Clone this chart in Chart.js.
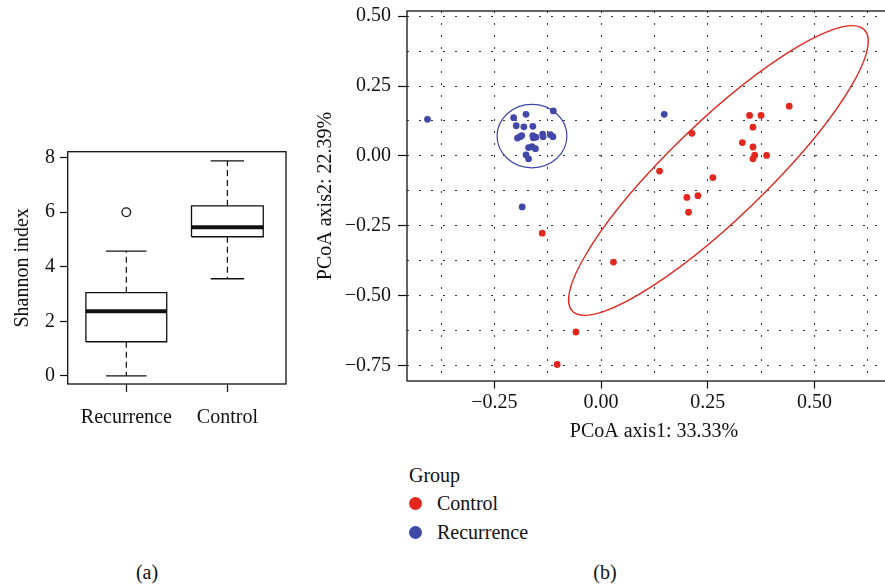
<!DOCTYPE html>
<html>
<head>
<meta charset="utf-8">
<title>Shannon index and PCoA</title>
<script src="https://cdn.jsdelivr.net/npm/chart.js@4.4.1/dist/chart.umd.min.js"></script>
<style>
    body {
        margin: 0;
        width: 885px;
        height: 584px;
        position: relative;
        overflow: hidden;
        background: #fff;
        font-family: 'Liberation Serif', 'DejaVu Serif', serif;
        color: #111;
    }
    #box-wrap { position: absolute; left: 0; top: 130px; }
    #pcoa-wrap { position: absolute; left: 300px; top: 0; }
    .txt { position: absolute; font-size: 20px; line-height: 24px; white-space: nowrap; }
    .caption { transform: translateX(-50%); }
    .dot { position: absolute; width: 13px; height: 13px; border-radius: 50%; }
</style>
</head>
<body>
<div id="box-wrap"><canvas id="box-chart" width="300" height="310"></canvas></div>
<div id="pcoa-wrap"><canvas id="pcoa-chart" width="605" height="445"></canvas></div>

<div class="txt" style="left:409px; top:463px;">Group</div>
<div class="dot" id="dot-control" style="left:409px; top:497px;"></div>
<div class="txt" style="left:437px; top:491px;">Control</div>
<div class="dot" id="dot-recurrence" style="left:409px; top:526px;"></div>
<div class="txt" style="left:437px; top:520px;">Recurrence</div>

<div class="txt caption" style="left:147px; top:560px;">(a)</div>
<div class="txt caption" style="left:605px; top:560px;">(b)</div>

<script>
// (a) Shannon index per group
const groups = ['Recurrence', 'Control'];
const whiskerLow = [0.0, 3.56];
const quartile1 = [1.25, 5.10];
const medians = [2.37, 5.45];
const quartile3 = [3.05, 6.23];
const whiskerHigh = [4.57, 7.88];
const outliers = [[6.0], []];
const shannonTicks = [0, 2, 4, 6, 8];

// (b) PCoA coordinates
const controlAxis1 = [0.441, 0.348, 0.375, 0.356, 0.213, 0.331, 0.356, 0.360, 0.356, 0.388,
    0.137, 0.262, 0.201, 0.227, 0.205, -0.138, 0.029, -0.059, -0.103];
const controlAxis2 = [0.178, 0.145, 0.145, 0.103, 0.081, 0.048, 0.032, 0.003, -0.010, 0.002,
    -0.054, -0.077, -0.148, -0.142, -0.201, -0.276, -0.379, -0.629, -0.745];
const recurrenceAxis1 = [-0.407, -0.205, -0.176, -0.112, -0.199, -0.181, -0.160, -0.196, -0.190, -0.186,
    -0.160, -0.159, -0.153, -0.137, -0.136, -0.119, -0.113, -0.170, -0.162, -0.154,
    -0.176, -0.170, -0.185, 0.148];
const recurrenceAxis2 = [0.131, 0.137, 0.149, 0.161, 0.108, 0.104, 0.106, 0.064, 0.069, 0.073,
    0.073, 0.065, 0.067, 0.078, 0.069, 0.076, 0.069, 0.030, 0.033, 0.026,
    0.004, -0.010, -0.182, 0.149];
const axis1Ticks = [-0.25, 0.00, 0.25, 0.50];
const axis1Minor = [-0.375, -0.125, 0.125, 0.375, 0.625];
const axis2Ticks = [-0.75, -0.50, -0.25, 0.00, 0.25, 0.50];
const axis2Minor = [-0.625, -0.375, -0.125, 0.125, 0.375];

// group ellipses: [control, recurrence]
const ellipseCentre1 = [0.275, -0.162];
const ellipseCentre2 = [-0.052, 0.071];
const ellipseSemiMajor = [0.611, 0.1132];
const ellipseSemiMinor = [0.134, 0.0819];
const ellipseAngleDeg = [57, 90];

// Colours and layout
const RED = '#E1281E';
const BLUE = '#4048A8';
const INK = '#111';
const FONT = { family: "'Liberation Serif', 'DejaVu Serif', serif", size: 20 };
const boxHalfWidth = [0.40, 0.355];
const capHalfWidth = [0.20, 0.165];

document.getElementById('dot-control').style.background = RED;
document.getElementById('dot-recurrence').style.background = BLUE;

Chart.defaults.font = FONT;
Chart.defaults.color = INK;

// Draws the frame round the plotting panel
const panelBorder = {
    id: 'panelBorder',
    afterDraw(chart) {
        const { ctx, chartArea: a } = chart;
        ctx.save();
        ctx.strokeStyle = INK;
        ctx.lineWidth = 1.3;
        ctx.strokeRect(a.left, a.top, a.right - a.left, a.bottom - a.top);
        ctx.restore();
    }
};

// Draws the group ellipses through the chart scales
const groupEllipses = {
    id: 'groupEllipses',
    afterDatasetsDraw(chart) {
        const { ctx, scales: { x, y } } = chart;
        const kx = x.getPixelForValue(1) - x.getPixelForValue(0);
        const ky = y.getPixelForValue(0) - y.getPixelForValue(1);
        [RED, BLUE].forEach((colour, i) => {
            ctx.save();
            ctx.beginPath();
            ctx.translate(x.getPixelForValue(ellipseCentre1[i]), y.getPixelForValue(ellipseCentre2[i]));
            ctx.scale(kx, -ky);
            ctx.rotate(ellipseAngleDeg[i] * Math.PI / 180);
            ctx.ellipse(0, 0, ellipseSemiMajor[i], ellipseSemiMinor[i], 0, 0, Math.PI * 2);
            ctx.restore();
            ctx.save();
            ctx.strokeStyle = colour;
            ctx.lineWidth = i === 0 ? 1.4 : 1.2;
            ctx.stroke();
            ctx.restore();
        });
    }
};

function fixAxis(size) {
    return scale => {
        if (scale.isHorizontal()) scale.height = size; else scale.width = size;
        scale.paddingTop = 0; scale.paddingBottom = 0;
        scale.paddingLeft = 0; scale.paddingRight = 0;
    };
}

function segment(points, width, dash) {
    return {
        data: points.map(([px, py]) => ({ x: px, y: py })),
        showLine: true,
        borderColor: INK,
        borderWidth: width,
        borderDash: dash || [],
        pointRadius: 0,
        fill: false,
        tension: 0
    };
}

function boxDatasets() {
    const sets = [];
    groups.forEach((g, i) => {
        const c = i + 1, w = boxHalfWidth[i], k = capHalfWidth[i];
        sets.push(segment([[c, quartile3[i]], [c, whiskerHigh[i]]], 1.2, [6, 4]));
        sets.push(segment([[c, quartile1[i]], [c, whiskerLow[i]]], 1.2, [6, 4]));
        sets.push(segment([[c - k, whiskerHigh[i]], [c + k, whiskerHigh[i]]], 1.3));
        sets.push(segment([[c - k, whiskerLow[i]], [c + k, whiskerLow[i]]], 1.3));
        sets.push(segment([[c - w, quartile1[i]], [c + w, quartile1[i]], [c + w, quartile3[i]],
            [c - w, quartile3[i]], [c - w, quartile1[i]]], 1.3));
        sets.push(segment([[c - w, medians[i]], [c + w, medians[i]]], 4));
        outliers[i].forEach(v => sets.push({
            data: [{ x: c, y: v }],
            pointRadius: 4.3,
            pointBackgroundColor: '#fff',
            pointBorderColor: INK,
            pointBorderWidth: 1.3
        }));
    });
    return sets;
}

new Chart(document.getElementById('box-chart'), {
    type: 'scatter',
    data: { datasets: boxDatasets() },
    options: {
        responsive: false,
        animation: false,
        layout: { padding: { top: 21.7, right: 14, left: 0, bottom: 0 } },
        plugins: { legend: { display: false }, tooltip: { enabled: false } },
        scales: {
            x: {
                type: 'linear', min: 0.42, max: 2.58,
                afterBuildTicks: s => { s.ticks = groups.map((g, i) => ({ value: i + 1 })); },
                afterFit: fixAxis(56),
                ticks: { autoSkip: false, maxRotation: 0, padding: 14, callback: (v, i) => groups[i] },
                grid: { drawOnChartArea: false, tickLength: 8, tickColor: INK, tickWidth: 1.2 },
                border: { display: false }
            },
            y: {
                type: 'linear', min: -0.3, max: 8.22,
                afterBuildTicks: s => { s.ticks = shannonTicks.map(v => ({ value: v })); },
                afterFit: fixAxis(67.7),
                ticks: { padding: 5, callback: v => String(v) },
                grid: { drawOnChartArea: false, tickLength: 7.7, tickColor: INK, tickWidth: 1.2 },
                border: { display: false },
                title: { display: true, text: 'Shannon index', padding: { top: 11, bottom: 0 } }
            }
        }
    },
    plugins: [panelBorder]
});

const fmt = v => (v < 0 ? '\u2212' : '') + Math.abs(v).toFixed(2);
const withMinor = (major, minor) => major.concat(minor).sort((a, b) => a - b).map(v => ({ value: v }));

new Chart(document.getElementById('pcoa-chart'), {
    type: 'scatter',
    data: {
        datasets: [
            {
                label: 'Control',
                data: controlAxis1.map((v, i) => ({ x: v, y: controlAxis2[i] })),
                pointRadius: 3.4, pointBorderWidth: 0, pointBackgroundColor: RED
            },
            {
                label: 'Recurrence',
                data: recurrenceAxis1.map((v, i) => ({ x: v, y: recurrenceAxis2[i] })),
                pointRadius: 3.4, pointBorderWidth: 0, pointBackgroundColor: BLUE
            }
        ]
    },
    options: {
        responsive: false,
        animation: false,
        layout: { padding: { top: 11, right: 0, left: 0, bottom: 0 } },
        plugins: { legend: { display: false }, tooltip: { enabled: false } },
        scales: {
            x: {
                type: 'linear', min: -0.455, max: 0.703,
                afterBuildTicks: s => { s.ticks = withMinor(axis1Ticks, axis1Minor); },
                afterFit: fixAxis(64),
                ticks: { autoSkip: false, maxRotation: 0, padding: 2,
                    callback: v => axis1Ticks.includes(v) ? fmt(v) : '' },
                grid: {
                    color: '#333', lineWidth: 1, tickLength: 7.5, tickWidth: 1.2, tickBorderDash: [],
                    tickColor: c => axis1Ticks.includes(c.tick.value) ? INK : 'rgba(0,0,0,0)'
                },
                border: { display: false, dash: [2, 10] },
                title: { display: true, text: 'PCoA axis1: 33.33%', padding: { top: 0, bottom: 1.3 } }
            },
            y: {
                type: 'linear', min: -0.804, max: 0.518,
                afterBuildTicks: s => { s.ticks = withMinor(axis2Ticks, axis2Minor); },
                afterFit: fixAxis(107),
                ticks: { autoSkip: false, padding: 7,
                    callback: v => axis2Ticks.includes(v) ? fmt(v) : '' },
                grid: {
                    color: '#333', lineWidth: 1, tickLength: 9, tickWidth: 1.2, tickBorderDash: [],
                    tickColor: c => axis2Ticks.includes(c.tick.value) ? INK : 'rgba(0,0,0,0)'
                },
                border: { display: false, dash: [2, 10] },
                title: { display: true, text: 'PCoA axis2: 22.39%', padding: { top: 14, bottom: 0 } }
            }
        }
    },
    plugins: [groupEllipses, panelBorder]
});
</script>
</body>
</html>
